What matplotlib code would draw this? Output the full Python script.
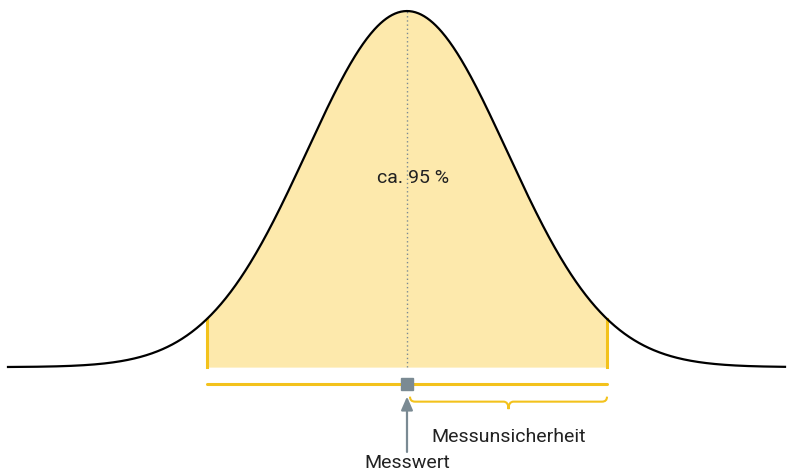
import numpy as np
import matplotlib.pyplot as plt
from matplotlib.path import Path
from matplotlib.patches import PathPatch

# ---- data ----
mean = 0.0
sigma = 1.0
x_range = [-3.99, 3.78]          # extent of the drawn curve (in sigma)
interval = [-2.0, 2.0]           # ca. 95 % interval
label_pct = "ca. 95 %"
label_value = "Messwert"
label_unc = "Messunsicherheit"

yellow = "#f3c21c"
fill_col = "#fde9ac"
grey = "#7a8a93"

plt.rcParams['font.family'] = ['Roboto', 'DejaVu Sans']

x = np.linspace(x_range[0], x_range[1], 800)
y = np.exp(-0.5 * ((x - mean) / sigma) ** 2)

fig = plt.figure(figsize=(7.96, 4.75), dpi=100)
ax = fig.add_axes([0, 0, 1, 1])
ax.set_xlim(-4.07, 3.89)
ax.set_ylim(-0.303, 1.031)
ax.axis("off")

# shaded area + curve
m = (x >= interval[0]) & (x <= interval[1])
ax.fill_between(x[m], 0, y[m], color=fill_col, lw=0, zorder=1)
ax.plot(x, y, color="black", lw=1.6, zorder=3)

# edges of interval
for xe in interval:
    ye = np.exp(-0.5 * ((xe - mean) / sigma) ** 2)
    ax.plot([xe, xe], [0, ye], color=yellow, lw=2.2, zorder=2)

# dotted centre line
ax.plot([mean, mean], [0, 1], color=grey, lw=1, ls=(0, (1, 2)), zorder=2)
ax.text(mean + 0.06, 0.53, label_pct, ha="center", va="center",
        fontsize=14, color="#222222", zorder=4)

# horizontal interval bar
ybar = -0.048
ax.plot(interval, [ybar, ybar], color=yellow, lw=2.2,
        solid_capstyle="round", zorder=2)
ax.plot(mean, ybar, marker="s", ms=8, color=grey, zorder=5)

# brace from mean to upper limit
x0, x1 = mean + 0.03, interval[1]
xm = (x0 + x1) / 2
yt, yl, ytip = -0.083, -0.097, -0.118
r = 0.05
verts = [(x0, yt), (x0, yl), (x0 + r, yl),
         (xm - r, yl), (xm, yl), (xm, ytip),
         (xm, yl), (xm + r, yl),
         (x1 - r, yl), (x1, yl), (x1, yt)]
codes = [Path.MOVETO, Path.CURVE3, Path.CURVE3,
         Path.LINETO, Path.CURVE3, Path.CURVE3,
         Path.CURVE3, Path.CURVE3,
         Path.LINETO, Path.CURVE3, Path.CURVE3]
ax.add_patch(PathPatch(Path(verts, codes), fill=False, ec=yellow, lw=1.5, zorder=2))
ax.text(1.02, -0.197, label_unc, ha="center", va="center",
        fontsize=14, color="#222222")

# arrow to measured value
ax.annotate("", xy=(mean, -0.075), xytext=(mean, -0.246),
            arrowprops=dict(arrowstyle="-|>,head_width=0.35,head_length=0.8",
                            color=grey, lw=1.6))
ax.text(mean, -0.27, label_value, ha="center", va="center",
        fontsize=14, color="#222222")

fig.savefig("out.png", dpi=100)
